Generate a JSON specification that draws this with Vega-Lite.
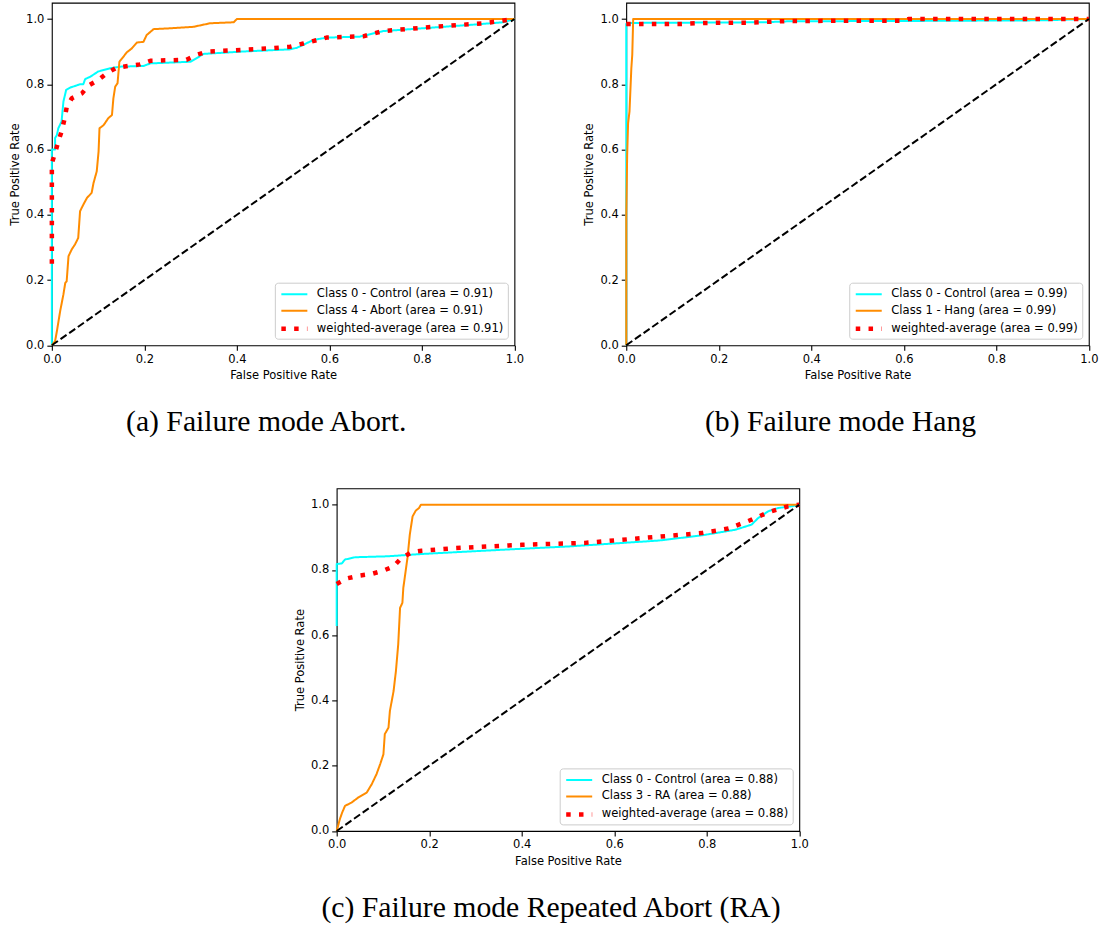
{
  "$schema": "https://vega.github.io/schema/vega-lite/v6.json",
  "background": "white",
  "padding": {"left": 8.7, "top": 1.7, "right": 5, "bottom": 5},
  "config": {
    "view": {"stroke": "black", "strokeWidth": 1.1},
    "axis": {"domain": false, "grid": false, "tickColor": "black", "tickSize": 5, "tickWidth": 1.1,
      "labelFont": "DejaVu Sans", "labelFontSize": 11.5, "labelColor": "black", "labelPadding": 3,
      "labelFlush": false, "labelOverlap": false,
      "titleFont": "DejaVu Sans", "titleFontSize": 11.5, "titleFontWeight": "normal", "titleColor": "black", "titlePadding": 5},
    "legend": {"orient": "bottom-right", "offset": 6.5, "title": null, "symbolType": "M-1,0H3", "symbolSize": 169,
      "labelFont": "DejaVu Sans", "labelFontSize": 11.6, "labelColor": "black", "labelOffset": 20, "labelLimit": 0,
      "rowPadding": 2.5, "padding": 4, "fillColor": "rgba(255,255,255,0.8)", "strokeColor": "#cccccc", "cornerRadius": 3},
    "title": {"font": "Liberation Serif", "fontSize": 29.7, "fontWeight": "normal", "color": "black", "orient": "bottom", "offset": 27, "dx": -17, "anchor": "middle", "frame": "group"},
    "line": {"strokeCap": "butt", "strokeJoin": "round"}
  },
  "center": true,
  "spacing": 49.7,
  "resolve": {"scale": {"color": "independent", "strokeDash": "independent", "strokeWidth": "independent"}, "legend": {"color": "independent", "strokeDash": "independent", "strokeWidth": "independent"}},
  "vconcat": [
    {
      "hconcat": [
        {
          "width": 462.6, "height": 342.6,
          "title": "(a) Failure mode Abort.",
          "layer": [
            {
              "data": {"values": [
                {"c": "Class 0 - Control (area = 0.91)", "x": 0, "y": 0},
                {"c": "Class 0 - Control (area = 0.91)", "x": 0, "y": 0.6},
                {"c": "Class 0 - Control (area = 0.91)", "x": 0.007, "y": 0.6},
                {"c": "Class 0 - Control (area = 0.91)", "x": 0.007, "y": 0.635},
                {"c": "Class 0 - Control (area = 0.91)", "x": 0.011, "y": 0.645},
                {"c": "Class 0 - Control (area = 0.91)", "x": 0.014, "y": 0.665},
                {"c": "Class 0 - Control (area = 0.91)", "x": 0.021, "y": 0.686},
                {"c": "Class 0 - Control (area = 0.91)", "x": 0.025, "y": 0.747},
                {"c": "Class 0 - Control (area = 0.91)", "x": 0.031, "y": 0.783},
                {"c": "Class 0 - Control (area = 0.91)", "x": 0.04, "y": 0.79},
                {"c": "Class 0 - Control (area = 0.91)", "x": 0.061, "y": 0.8},
                {"c": "Class 0 - Control (area = 0.91)", "x": 0.068, "y": 0.8},
                {"c": "Class 0 - Control (area = 0.91)", "x": 0.072, "y": 0.816},
                {"c": "Class 0 - Control (area = 0.91)", "x": 0.083, "y": 0.823},
                {"c": "Class 0 - Control (area = 0.91)", "x": 0.1, "y": 0.839},
                {"c": "Class 0 - Control (area = 0.91)", "x": 0.126, "y": 0.849},
                {"c": "Class 0 - Control (area = 0.91)", "x": 0.148, "y": 0.854},
                {"c": "Class 0 - Control (area = 0.91)", "x": 0.198, "y": 0.856},
                {"c": "Class 0 - Control (area = 0.91)", "x": 0.213, "y": 0.864},
                {"c": "Class 0 - Control (area = 0.91)", "x": 0.3, "y": 0.869},
                {"c": "Class 0 - Control (area = 0.91)", "x": 0.328, "y": 0.893},
                {"c": "Class 0 - Control (area = 0.91)", "x": 0.408, "y": 0.9},
                {"c": "Class 0 - Control (area = 0.91)", "x": 0.515, "y": 0.907},
                {"c": "Class 0 - Control (area = 0.91)", "x": 0.53, "y": 0.912},
                {"c": "Class 0 - Control (area = 0.91)", "x": 0.566, "y": 0.936},
                {"c": "Class 0 - Control (area = 0.91)", "x": 0.594, "y": 0.943},
                {"c": "Class 0 - Control (area = 0.91)", "x": 0.666, "y": 0.946},
                {"c": "Class 0 - Control (area = 0.91)", "x": 0.716, "y": 0.963},
                {"c": "Class 0 - Control (area = 0.91)", "x": 0.796, "y": 0.971},
                {"c": "Class 0 - Control (area = 0.91)", "x": 0.904, "y": 0.982},
                {"c": "Class 0 - Control (area = 0.91)", "x": 0.976, "y": 0.99},
                {"c": "Class 0 - Control (area = 0.91)", "x": 1, "y": 1},
                {"c": "Class 4 - Abort (area = 0.91)", "x": 0, "y": 0},
                {"c": "Class 4 - Abort (area = 0.91)", "x": 0.007, "y": 0.013},
                {"c": "Class 4 - Abort (area = 0.91)", "x": 0.011, "y": 0.044},
                {"c": "Class 4 - Abort (area = 0.91)", "x": 0.018, "y": 0.105},
                {"c": "Class 4 - Abort (area = 0.91)", "x": 0.025, "y": 0.156},
                {"c": "Class 4 - Abort (area = 0.91)", "x": 0.029, "y": 0.191},
                {"c": "Class 4 - Abort (area = 0.91)", "x": 0.032, "y": 0.196},
                {"c": "Class 4 - Abort (area = 0.91)", "x": 0.036, "y": 0.273},
                {"c": "Class 4 - Abort (area = 0.91)", "x": 0.043, "y": 0.294},
                {"c": "Class 4 - Abort (area = 0.91)", "x": 0.05, "y": 0.309},
                {"c": "Class 4 - Abort (area = 0.91)", "x": 0.057, "y": 0.329},
                {"c": "Class 4 - Abort (area = 0.91)", "x": 0.061, "y": 0.411},
                {"c": "Class 4 - Abort (area = 0.91)", "x": 0.068, "y": 0.431},
                {"c": "Class 4 - Abort (area = 0.91)", "x": 0.076, "y": 0.452},
                {"c": "Class 4 - Abort (area = 0.91)", "x": 0.086, "y": 0.467},
                {"c": "Class 4 - Abort (area = 0.91)", "x": 0.09, "y": 0.497},
                {"c": "Class 4 - Abort (area = 0.91)", "x": 0.097, "y": 0.533},
                {"c": "Class 4 - Abort (area = 0.91)", "x": 0.101, "y": 0.594},
                {"c": "Class 4 - Abort (area = 0.91)", "x": 0.103, "y": 0.665},
                {"c": "Class 4 - Abort (area = 0.91)", "x": 0.112, "y": 0.675},
                {"c": "Class 4 - Abort (area = 0.91)", "x": 0.122, "y": 0.696},
                {"c": "Class 4 - Abort (area = 0.91)", "x": 0.13, "y": 0.706},
                {"c": "Class 4 - Abort (area = 0.91)", "x": 0.133, "y": 0.757},
                {"c": "Class 4 - Abort (area = 0.91)", "x": 0.137, "y": 0.793},
                {"c": "Class 4 - Abort (area = 0.91)", "x": 0.142, "y": 0.803},
                {"c": "Class 4 - Abort (area = 0.91)", "x": 0.146, "y": 0.869},
                {"c": "Class 4 - Abort (area = 0.91)", "x": 0.155, "y": 0.885},
                {"c": "Class 4 - Abort (area = 0.91)", "x": 0.162, "y": 0.898},
                {"c": "Class 4 - Abort (area = 0.91)", "x": 0.173, "y": 0.91},
                {"c": "Class 4 - Abort (area = 0.91)", "x": 0.184, "y": 0.928},
                {"c": "Class 4 - Abort (area = 0.91)", "x": 0.198, "y": 0.93},
                {"c": "Class 4 - Abort (area = 0.91)", "x": 0.205, "y": 0.951},
                {"c": "Class 4 - Abort (area = 0.91)", "x": 0.22, "y": 0.969},
                {"c": "Class 4 - Abort (area = 0.91)", "x": 0.249, "y": 0.971},
                {"c": "Class 4 - Abort (area = 0.91)", "x": 0.306, "y": 0.976},
                {"c": "Class 4 - Abort (area = 0.91)", "x": 0.342, "y": 0.987},
                {"c": "Class 4 - Abort (area = 0.91)", "x": 0.393, "y": 0.99},
                {"c": "Class 4 - Abort (area = 0.91)", "x": 0.4, "y": 1},
                {"c": "Class 4 - Abort (area = 0.91)", "x": 1, "y": 1},
                {"c": "weighted-average (area = 0.91)", "x": 0, "y": 0.25},
                {"c": "weighted-average (area = 0.91)", "x": 0, "y": 0.558},
                {"c": "weighted-average (area = 0.91)", "x": 0.007, "y": 0.589},
                {"c": "weighted-average (area = 0.91)", "x": 0.014, "y": 0.625},
                {"c": "weighted-average (area = 0.91)", "x": 0.021, "y": 0.655},
                {"c": "weighted-average (area = 0.91)", "x": 0.027, "y": 0.691},
                {"c": "weighted-average (area = 0.91)", "x": 0.032, "y": 0.729},
                {"c": "weighted-average (area = 0.91)", "x": 0.043, "y": 0.757},
                {"c": "weighted-average (area = 0.91)", "x": 0.065, "y": 0.772},
                {"c": "weighted-average (area = 0.91)", "x": 0.079, "y": 0.796},
                {"c": "weighted-average (area = 0.91)", "x": 0.1, "y": 0.813},
                {"c": "weighted-average (area = 0.91)", "x": 0.119, "y": 0.834},
                {"c": "weighted-average (area = 0.91)", "x": 0.14, "y": 0.851},
                {"c": "weighted-average (area = 0.91)", "x": 0.19, "y": 0.861},
                {"c": "weighted-average (area = 0.91)", "x": 0.213, "y": 0.872},
                {"c": "weighted-average (area = 0.91)", "x": 0.291, "y": 0.875},
                {"c": "weighted-average (area = 0.91)", "x": 0.313, "y": 0.89},
                {"c": "weighted-average (area = 0.91)", "x": 0.335, "y": 0.9},
                {"c": "weighted-average (area = 0.91)", "x": 0.472, "y": 0.91},
                {"c": "weighted-average (area = 0.91)", "x": 0.515, "y": 0.915},
                {"c": "weighted-average (area = 0.91)", "x": 0.544, "y": 0.925},
                {"c": "weighted-average (area = 0.91)", "x": 0.594, "y": 0.943},
                {"c": "weighted-average (area = 0.91)", "x": 0.673, "y": 0.947},
                {"c": "weighted-average (area = 0.91)", "x": 0.716, "y": 0.963},
                {"c": "weighted-average (area = 0.91)", "x": 0.824, "y": 0.976},
                {"c": "weighted-average (area = 0.91)", "x": 0.933, "y": 0.987},
                {"c": "weighted-average (area = 0.91)", "x": 1, "y": 1}
              ]},
              "mark": {"type": "line"},
              "encoding": {
                "x": {"field": "x", "type": "quantitative", "scale": {"domain": [0, 1], "nice": false}, "axis": {"title": "False Positive Rate", "values": [0, 0.2, 0.4, 0.6, 0.8, 1], "format": ".1f"}},
                "y": {"field": "y", "type": "quantitative", "scale": {"domain": [0, 1.05], "nice": false}, "axis": {"title": "True Positive Rate", "values": [0, 0.2, 0.4, 0.6, 0.8, 1], "format": ".1f"}},
                "color": {"field": "c", "type": "nominal", "scale": {"domain": ["Class 0 - Control (area = 0.91)", "Class 4 - Abort (area = 0.91)", "weighted-average (area = 0.91)"], "range": ["#00ffff", "#ff8c00", "#ff0000"]}},
                "strokeDash": {"field": "c", "type": "nominal", "scale": {"domain": ["Class 0 - Control (area = 0.91)", "Class 4 - Abort (area = 0.91)", "weighted-average (area = 0.91)"], "range": [[1, 0], [1, 0], [4.5, 8.3]]}},
                "strokeWidth": {"field": "c", "type": "nominal", "scale": {"type": "ordinal", "domain": ["Class 0 - Control (area = 0.91)", "Class 4 - Abort (area = 0.91)", "weighted-average (area = 0.91)"], "range": [2, 2, 4.5]}}
              }
            },
            {
              "data": {"values": [{"x": 0, "y": 0}, {"x": 1, "y": 1}]},
              "mark": {"type": "line", "color": "black", "strokeWidth": 2, "strokeDash": [7.4, 3.2]},
              "encoding": {"x": {"field": "x", "type": "quantitative"}, "y": {"field": "y", "type": "quantitative"}}
            }
          ]
        },
        {
          "width": 462.6, "height": 342.6,
          "title": "(b) Failure mode Hang",
          "layer": [
            {
              "data": {"values": [
                {"c": "Class 0 - Control (area = 0.99)", "x": 0, "y": 0},
                {"c": "Class 0 - Control (area = 0.99)", "x": 0, "y": 0.985},
                {"c": "Class 0 - Control (area = 0.99)", "x": 0.01, "y": 0.988},
                {"c": "Class 0 - Control (area = 0.99)", "x": 0.3, "y": 0.99},
                {"c": "Class 0 - Control (area = 0.99)", "x": 0.35, "y": 0.993},
                {"c": "Class 0 - Control (area = 0.99)", "x": 0.6, "y": 0.994},
                {"c": "Class 0 - Control (area = 0.99)", "x": 0.9, "y": 0.996},
                {"c": "Class 0 - Control (area = 0.99)", "x": 1, "y": 1},
                {"c": "Class 1 - Hang (area = 0.99)", "x": 0, "y": 0},
                {"c": "Class 1 - Hang (area = 0.99)", "x": 0, "y": 0.4},
                {"c": "Class 1 - Hang (area = 0.99)", "x": 0.002, "y": 0.584},
                {"c": "Class 1 - Hang (area = 0.99)", "x": 0.004, "y": 0.681},
                {"c": "Class 1 - Hang (area = 0.99)", "x": 0.007, "y": 0.716},
                {"c": "Class 1 - Hang (area = 0.99)", "x": 0.011, "y": 0.849},
                {"c": "Class 1 - Hang (area = 0.99)", "x": 0.013, "y": 0.89},
                {"c": "Class 1 - Hang (area = 0.99)", "x": 0.015, "y": 1},
                {"c": "Class 1 - Hang (area = 0.99)", "x": 1, "y": 1},
                {"c": "weighted-average (area = 0.99)", "x": 0, "y": 0.985},
                {"c": "weighted-average (area = 0.99)", "x": 0.12, "y": 0.985},
                {"c": "weighted-average (area = 0.99)", "x": 0.17, "y": 0.988},
                {"c": "weighted-average (area = 0.99)", "x": 0.27, "y": 0.989},
                {"c": "weighted-average (area = 0.99)", "x": 0.3, "y": 0.991},
                {"c": "weighted-average (area = 0.99)", "x": 0.35, "y": 0.994},
                {"c": "weighted-average (area = 0.99)", "x": 0.6, "y": 0.995},
                {"c": "weighted-average (area = 0.99)", "x": 0.61, "y": 1},
                {"c": "weighted-average (area = 0.99)", "x": 1, "y": 1}
              ]},
              "mark": {"type": "line"},
              "encoding": {
                "x": {"field": "x", "type": "quantitative", "scale": {"domain": [0, 1], "nice": false}, "axis": {"title": "False Positive Rate", "values": [0, 0.2, 0.4, 0.6, 0.8, 1], "format": ".1f"}},
                "y": {"field": "y", "type": "quantitative", "scale": {"domain": [0, 1.05], "nice": false}, "axis": {"title": "True Positive Rate", "values": [0, 0.2, 0.4, 0.6, 0.8, 1], "format": ".1f"}},
                "color": {"field": "c", "type": "nominal", "scale": {"domain": ["Class 0 - Control (area = 0.99)", "Class 1 - Hang (area = 0.99)", "weighted-average (area = 0.99)"], "range": ["#00ffff", "#ff8c00", "#ff0000"]}},
                "strokeDash": {"field": "c", "type": "nominal", "scale": {"domain": ["Class 0 - Control (area = 0.99)", "Class 1 - Hang (area = 0.99)", "weighted-average (area = 0.99)"], "range": [[1, 0], [1, 0], [4.5, 8.3]]}},
                "strokeWidth": {"field": "c", "type": "nominal", "scale": {"type": "ordinal", "domain": ["Class 0 - Control (area = 0.99)", "Class 1 - Hang (area = 0.99)", "weighted-average (area = 0.99)"], "range": [2, 2, 4.5]}}
              }
            },
            {
              "data": {"values": [{"x": 0, "y": 0}, {"x": 1, "y": 1}]},
              "mark": {"type": "line", "color": "black", "strokeWidth": 2, "strokeDash": [7.4, 3.2]},
              "encoding": {"x": {"field": "x", "type": "quantitative"}, "y": {"field": "y", "type": "quantitative"}}
            }
          ]
        }
      ],
      "spacing": 111.4,
      "bounds": "flush",
      "resolve": {"scale": {"color": "independent", "strokeDash": "independent", "strokeWidth": "independent"}, "legend": {"color": "independent", "strokeDash": "independent", "strokeWidth": "independent"}}
    },
    {
      "hconcat": [
        {
          "width": 462.6, "height": 342.6,
          "title": "(c) Failure mode Repeated Abort (RA)",
          "layer": [
            {
              "data": {"values": [
                {"c": "Class 0 - Control (area = 0.88)", "x": 0, "y": 0.628},
                {"c": "Class 0 - Control (area = 0.88)", "x": 0, "y": 0.818},
                {"c": "Class 0 - Control (area = 0.88)", "x": 0.011, "y": 0.82},
                {"c": "Class 0 - Control (area = 0.88)", "x": 0.018, "y": 0.832},
                {"c": "Class 0 - Control (area = 0.88)", "x": 0.04, "y": 0.839},
                {"c": "Class 0 - Control (area = 0.88)", "x": 0.112, "y": 0.842},
                {"c": "Class 0 - Control (area = 0.88)", "x": 0.184, "y": 0.849},
                {"c": "Class 0 - Control (area = 0.88)", "x": 0.292, "y": 0.857},
                {"c": "Class 0 - Control (area = 0.88)", "x": 0.4, "y": 0.865},
                {"c": "Class 0 - Control (area = 0.88)", "x": 0.5, "y": 0.872},
                {"c": "Class 0 - Control (area = 0.88)", "x": 0.695, "y": 0.89},
                {"c": "Class 0 - Control (area = 0.88)", "x": 0.789, "y": 0.906},
                {"c": "Class 0 - Control (area = 0.88)", "x": 0.861, "y": 0.923},
                {"c": "Class 0 - Control (area = 0.88)", "x": 0.897, "y": 0.939},
                {"c": "Class 0 - Control (area = 0.88)", "x": 0.911, "y": 0.959},
                {"c": "Class 0 - Control (area = 0.88)", "x": 0.933, "y": 0.98},
                {"c": "Class 0 - Control (area = 0.88)", "x": 0.955, "y": 0.99},
                {"c": "Class 0 - Control (area = 0.88)", "x": 0.983, "y": 0.995},
                {"c": "Class 0 - Control (area = 0.88)", "x": 1, "y": 1},
                {"c": "Class 3 - RA (area = 0.88)", "x": 0, "y": 0},
                {"c": "Class 3 - RA (area = 0.88)", "x": 0.007, "y": 0.037},
                {"c": "Class 3 - RA (area = 0.88)", "x": 0.012, "y": 0.057},
                {"c": "Class 3 - RA (area = 0.88)", "x": 0.018, "y": 0.077},
                {"c": "Class 3 - RA (area = 0.88)", "x": 0.032, "y": 0.087},
                {"c": "Class 3 - RA (area = 0.88)", "x": 0.047, "y": 0.103},
                {"c": "Class 3 - RA (area = 0.88)", "x": 0.065, "y": 0.118},
                {"c": "Class 3 - RA (area = 0.88)", "x": 0.076, "y": 0.144},
                {"c": "Class 3 - RA (area = 0.88)", "x": 0.086, "y": 0.174},
                {"c": "Class 3 - RA (area = 0.88)", "x": 0.094, "y": 0.205},
                {"c": "Class 3 - RA (area = 0.88)", "x": 0.101, "y": 0.235},
                {"c": "Class 3 - RA (area = 0.88)", "x": 0.104, "y": 0.297},
                {"c": "Class 3 - RA (area = 0.88)", "x": 0.112, "y": 0.317},
                {"c": "Class 3 - RA (area = 0.88)", "x": 0.115, "y": 0.368},
                {"c": "Class 3 - RA (area = 0.88)", "x": 0.123, "y": 0.429},
                {"c": "Class 3 - RA (area = 0.88)", "x": 0.128, "y": 0.49},
                {"c": "Class 3 - RA (area = 0.88)", "x": 0.133, "y": 0.572},
                {"c": "Class 3 - RA (area = 0.88)", "x": 0.137, "y": 0.684},
                {"c": "Class 3 - RA (area = 0.88)", "x": 0.142, "y": 0.699},
                {"c": "Class 3 - RA (area = 0.88)", "x": 0.144, "y": 0.745},
                {"c": "Class 3 - RA (area = 0.88)", "x": 0.149, "y": 0.796},
                {"c": "Class 3 - RA (area = 0.88)", "x": 0.153, "y": 0.837},
                {"c": "Class 3 - RA (area = 0.88)", "x": 0.158, "y": 0.908},
                {"c": "Class 3 - RA (area = 0.88)", "x": 0.164, "y": 0.964},
                {"c": "Class 3 - RA (area = 0.88)", "x": 0.171, "y": 0.982},
                {"c": "Class 3 - RA (area = 0.88)", "x": 0.178, "y": 0.99},
                {"c": "Class 3 - RA (area = 0.88)", "x": 0.182, "y": 1},
                {"c": "Class 3 - RA (area = 0.88)", "x": 1, "y": 1},
                {"c": "weighted-average (area = 0.88)", "x": 0, "y": 0.757},
                {"c": "weighted-average (area = 0.88)", "x": 0.022, "y": 0.774},
                {"c": "weighted-average (area = 0.88)", "x": 0.05, "y": 0.783},
                {"c": "weighted-average (area = 0.88)", "x": 0.076, "y": 0.788},
                {"c": "weighted-average (area = 0.88)", "x": 0.101, "y": 0.798},
                {"c": "weighted-average (area = 0.88)", "x": 0.123, "y": 0.811},
                {"c": "weighted-average (area = 0.88)", "x": 0.14, "y": 0.837},
                {"c": "weighted-average (area = 0.88)", "x": 0.162, "y": 0.854},
                {"c": "weighted-average (area = 0.88)", "x": 0.184, "y": 0.859},
                {"c": "weighted-average (area = 0.88)", "x": 0.256, "y": 0.867},
                {"c": "weighted-average (area = 0.88)", "x": 0.4, "y": 0.877},
                {"c": "weighted-average (area = 0.88)", "x": 0.537, "y": 0.883},
                {"c": "weighted-average (area = 0.88)", "x": 0.688, "y": 0.901},
                {"c": "weighted-average (area = 0.88)", "x": 0.789, "y": 0.913},
                {"c": "weighted-average (area = 0.88)", "x": 0.847, "y": 0.927},
                {"c": "weighted-average (area = 0.88)", "x": 0.897, "y": 0.954},
                {"c": "weighted-average (area = 0.88)", "x": 0.933, "y": 0.977},
                {"c": "weighted-average (area = 0.88)", "x": 0.976, "y": 0.995},
                {"c": "weighted-average (area = 0.88)", "x": 1, "y": 1}
              ]},
              "mark": {"type": "line"},
              "encoding": {
                "x": {"field": "x", "type": "quantitative", "scale": {"domain": [0, 1], "nice": false}, "axis": {"title": "False Positive Rate", "values": [0, 0.2, 0.4, 0.6, 0.8, 1], "format": ".1f"}},
                "y": {"field": "y", "type": "quantitative", "scale": {"domain": [0, 1.05], "nice": false}, "axis": {"title": "True Positive Rate", "values": [0, 0.2, 0.4, 0.6, 0.8, 1], "format": ".1f"}},
                "color": {"field": "c", "type": "nominal", "scale": {"domain": ["Class 0 - Control (area = 0.88)", "Class 3 - RA (area = 0.88)", "weighted-average (area = 0.88)"], "range": ["#00ffff", "#ff8c00", "#ff0000"]}},
                "strokeDash": {"field": "c", "type": "nominal", "scale": {"domain": ["Class 0 - Control (area = 0.88)", "Class 3 - RA (area = 0.88)", "weighted-average (area = 0.88)"], "range": [[1, 0], [1, 0], [4.5, 8.3]]}},
                "strokeWidth": {"field": "c", "type": "nominal", "scale": {"type": "ordinal", "domain": ["Class 0 - Control (area = 0.88)", "Class 3 - RA (area = 0.88)", "weighted-average (area = 0.88)"], "range": [2, 2, 4.5]}}
              }
            },
            {
              "data": {"values": [{"x": 0, "y": 0}, {"x": 1, "y": 1}]},
              "mark": {"type": "line", "color": "black", "strokeWidth": 2, "strokeDash": [7.4, 3.2]},
              "encoding": {"x": {"field": "x", "type": "quantitative"}, "y": {"field": "y", "type": "quantitative"}}
            }
          ]
        },
        {
          "width": 4, "height": 10,
          "view": {"stroke": null},
          "data": {"values": []},
          "mark": "point",
          "encoding": {}
        }
      ],
      "spacing": 0,
      "resolve": {"scale": {"color": "independent", "strokeDash": "independent", "strokeWidth": "independent"}, "legend": {"color": "independent", "strokeDash": "independent", "strokeWidth": "independent"}}
    }
  ]
}
